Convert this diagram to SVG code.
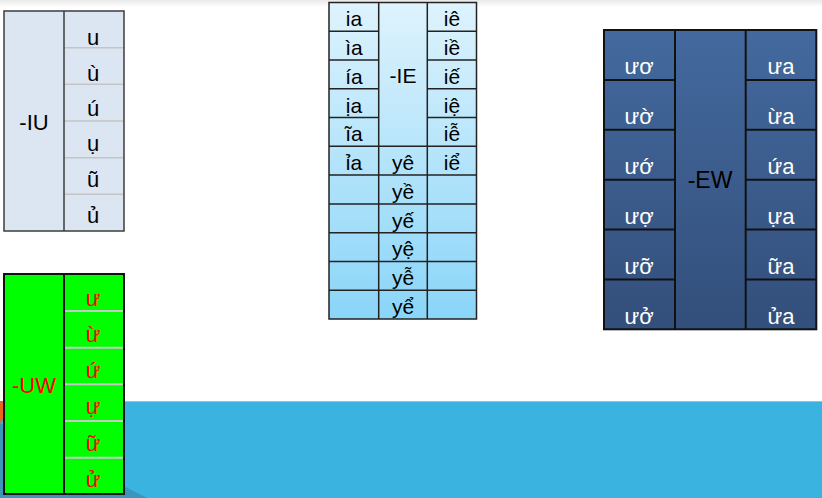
<svg xmlns="http://www.w3.org/2000/svg" width="822" height="498" viewBox="0 0 822 498">
  <defs>
    <linearGradient id="topShade" x1="0" y1="0" x2="0" y2="1">
      <stop offset="0" stop-color="#e9e9e9"/>
      <stop offset="1" stop-color="#ffffff"/>
    </linearGradient>
    <linearGradient id="ieFill" x1="0" y1="0" x2="0" y2="1">
      <stop offset="0" stop-color="#def3fd"/>
      <stop offset="1" stop-color="#8ad5f8"/>
    </linearGradient>
    <linearGradient id="ewFill" x1="0" y1="0" x2="0" y2="1">
      <stop offset="0" stop-color="#43699e"/>
      <stop offset="1" stop-color="#334f7b"/>
    </linearGradient>
  </defs>
  <style>
    text { font-family: "Liberation Sans", Arial, sans-serif; text-anchor: middle; }
    .iu-cell { fill: #dce6f2; }
    .iu-border { fill: none; stroke: #3c3c3c; stroke-width: 1.5; }
    .iu-row { stroke: #c4c4c4; stroke-width: 1.5; }
    .iu-txt { font-size: 22px; fill: #000; }
    .uw-cell { fill: #00ff00; }
    .uw-border { fill: none; stroke: #111; stroke-width: 2; }
    .uw-row { stroke: #c8c8c8; stroke-width: 2; }
    .uw-txt { font-size: 22px; fill: #ff0000; }
    .ie-border { fill: none; stroke: #222; stroke-width: 1.5; }
    .ie-txt { font-size: 21px; fill: #000; }
    .ew-border { fill: none; stroke: #111; stroke-width: 2; }
    .ew-txt { font-size: 22px; fill: #ffffff; }
    .ew-label { font-size: 23px; fill: #000; }
  </style>

  <!-- background -->
  <g id="background">
    <rect x="0" y="0" width="822" height="498" fill="#ffffff"/>
    <rect x="0" y="0" width="822" height="7" fill="url(#topShade)"/>
    <rect x="0" y="401" width="822" height="97" fill="#3bb3e0"/>
    <line x1="0" y1="401.5" x2="822" y2="401.5" stroke="#7ccbea" stroke-width="1"/>
    <polygon points="0,401 20,401 0,423" fill="#e8641b"/>
    <polygon points="0,423 147,498 0,498" fill="#3a97b9"/>
  </g>

  <!-- -IU table -->
  <g id="table-iu">
    <rect class="iu-cell" x="4" y="11" width="120" height="220"/>
    <line class="iu-row" x1="64" y1="47.7" x2="124" y2="47.7"/>
    <line class="iu-row" x1="64" y1="84.3" x2="124" y2="84.3"/>
    <line class="iu-row" x1="64" y1="121" x2="124" y2="121"/>
    <line class="iu-row" x1="64" y1="157.7" x2="124" y2="157.7"/>
    <line class="iu-row" x1="64" y1="194.3" x2="124" y2="194.3"/>
    <rect class="iu-border" x="4" y="11" width="120" height="220"/>
    <line x1="64" y1="11" x2="64" y2="231" stroke="#3c3c3c" stroke-width="1.5"/>
    <text class="iu-txt" x="34" y="130">-IU</text>
    <text class="iu-txt" x="93" y="45">u</text>
    <text class="iu-txt" x="93" y="80.5">ù</text>
    <text class="iu-txt" x="93" y="115.5">ú</text>
    <text class="iu-txt" x="93" y="151">ụ</text>
    <text class="iu-txt" x="93" y="187">ũ</text>
    <text class="iu-txt" x="93" y="223">ủ</text>
  </g>

  <!-- -UW table -->
  <g id="table-uw">
    <rect class="uw-cell" x="4" y="274" width="120" height="220"/>
    <line class="uw-row" x1="64" y1="311" x2="124" y2="311"/>
    <line class="uw-row" x1="64" y1="347.7" x2="124" y2="347.7"/>
    <line class="uw-row" x1="64" y1="384.3" x2="124" y2="384.3"/>
    <line class="uw-row" x1="64" y1="421" x2="124" y2="421"/>
    <line class="uw-row" x1="64" y1="457.7" x2="124" y2="457.7"/>
    <rect class="uw-border" x="4" y="274" width="120" height="220"/>
    <line x1="64" y1="274" x2="64" y2="494" stroke="#111" stroke-width="2"/>
    <text class="uw-txt" x="34" y="393">-UW</text>
    <text class="uw-txt" x="93" y="306">ư</text>
    <text class="uw-txt" x="93" y="342">ừ</text>
    <text class="uw-txt" x="93" y="378">ứ</text>
    <text class="uw-txt" x="93" y="414">ự</text>
    <text class="uw-txt" x="93" y="451">ữ</text>
    <text class="uw-txt" x="93" y="487">ử</text>
  </g>

  <!-- -IE table -->
  <g id="table-ie">
    <rect x="329" y="2.5" width="147.5" height="316.5" fill="url(#ieFill)"/>
    <g stroke="#222" stroke-width="1.5">
      <!-- left & right column row lines (full) -->
      <line x1="329" y1="31.3" x2="378.7" y2="31.3"/>
      <line x1="329" y1="60" x2="378.7" y2="60"/>
      <line x1="329" y1="88.8" x2="378.7" y2="88.8"/>
      <line x1="329" y1="117.6" x2="378.7" y2="117.6"/>
      <line x1="427.3" y1="31.3" x2="476.5" y2="31.3"/>
      <line x1="427.3" y1="60" x2="476.5" y2="60"/>
      <line x1="427.3" y1="88.8" x2="476.5" y2="88.8"/>
      <line x1="427.3" y1="117.6" x2="476.5" y2="117.6"/>
      <line x1="329" y1="146.3" x2="476.5" y2="146.3"/>
      <line x1="329" y1="175.1" x2="476.5" y2="175.1"/>
      <line x1="329" y1="203.9" x2="476.5" y2="203.9"/>
      <line x1="329" y1="232.7" x2="476.5" y2="232.7"/>
      <line x1="329" y1="261.4" x2="476.5" y2="261.4"/>
      <line x1="329" y1="290.2" x2="476.5" y2="290.2"/>
      <line x1="378.7" y1="2.5" x2="378.7" y2="319"/>
      <line x1="427.3" y1="2.5" x2="427.3" y2="319"/>
    </g>
    <rect class="ie-border" x="329" y="2.5" width="147.5" height="316.5"/>
    <text class="ie-txt" x="354" y="26">ia</text>
    <text class="ie-txt" x="354" y="55">ìa</text>
    <text class="ie-txt" x="354" y="83.5">ía</text>
    <text class="ie-txt" x="354" y="112.5">ịa</text>
    <text class="ie-txt" x="354" y="141">ĩa</text>
    <text class="ie-txt" x="354" y="169.5">ỉa</text>
    <text class="ie-txt" x="403" y="83">-IE</text>
    <text class="ie-txt" x="403" y="169.5">yê</text>
    <text class="ie-txt" x="403" y="198.5">yề</text>
    <text class="ie-txt" x="403" y="227.5">yế</text>
    <text class="ie-txt" x="403" y="256">yệ</text>
    <text class="ie-txt" x="403" y="285">yễ</text>
    <text class="ie-txt" x="403" y="313.5">yể</text>
    <text class="ie-txt" x="452" y="26">iê</text>
    <text class="ie-txt" x="452" y="55">iề</text>
    <text class="ie-txt" x="452" y="83.5">iế</text>
    <text class="ie-txt" x="452" y="112.5">iệ</text>
    <text class="ie-txt" x="452" y="141">iễ</text>
    <text class="ie-txt" x="452" y="169.5">iể</text>
  </g>

  <!-- -EW table -->
  <g id="table-ew">
    <rect x="604" y="30" width="212.3" height="299.3" fill="url(#ewFill)"/>
    <g stroke="#111" stroke-width="2">
      <line x1="604" y1="79.9" x2="675" y2="79.9"/>
      <line x1="604" y1="129.8" x2="675" y2="129.8"/>
      <line x1="604" y1="179.7" x2="675" y2="179.7"/>
      <line x1="604" y1="229.5" x2="675" y2="229.5"/>
      <line x1="604" y1="279.4" x2="675" y2="279.4"/>
      <line x1="745.7" y1="79.9" x2="816.3" y2="79.9"/>
      <line x1="745.7" y1="129.8" x2="816.3" y2="129.8"/>
      <line x1="745.7" y1="179.7" x2="816.3" y2="179.7"/>
      <line x1="745.7" y1="229.5" x2="816.3" y2="229.5"/>
      <line x1="745.7" y1="279.4" x2="816.3" y2="279.4"/>
      <line x1="675" y1="30" x2="675" y2="329.3"/>
      <line x1="745.7" y1="30" x2="745.7" y2="329.3"/>
    </g>
    <rect class="ew-border" x="604" y="30" width="212.3" height="299.3"/>
    <text class="ew-label" x="710" y="188">-EW</text>
    <text class="ew-txt" x="639" y="73.5">ươ</text>
    <text class="ew-txt" x="639" y="123.5">ườ</text>
    <text class="ew-txt" x="639" y="173.5">ướ</text>
    <text class="ew-txt" x="639" y="223.5">ượ</text>
    <text class="ew-txt" x="639" y="273.5">ưỡ</text>
    <text class="ew-txt" x="639" y="323.5">ưở</text>
    <text class="ew-txt" x="781" y="73.5">ưa</text>
    <text class="ew-txt" x="781" y="123.5">ừa</text>
    <text class="ew-txt" x="781" y="173.5">ứa</text>
    <text class="ew-txt" x="781" y="223.5">ựa</text>
    <text class="ew-txt" x="781" y="273.5">ữa</text>
    <text class="ew-txt" x="781" y="323.5">ửa</text>
  </g>

  <g id="connectors"/>
</svg>
